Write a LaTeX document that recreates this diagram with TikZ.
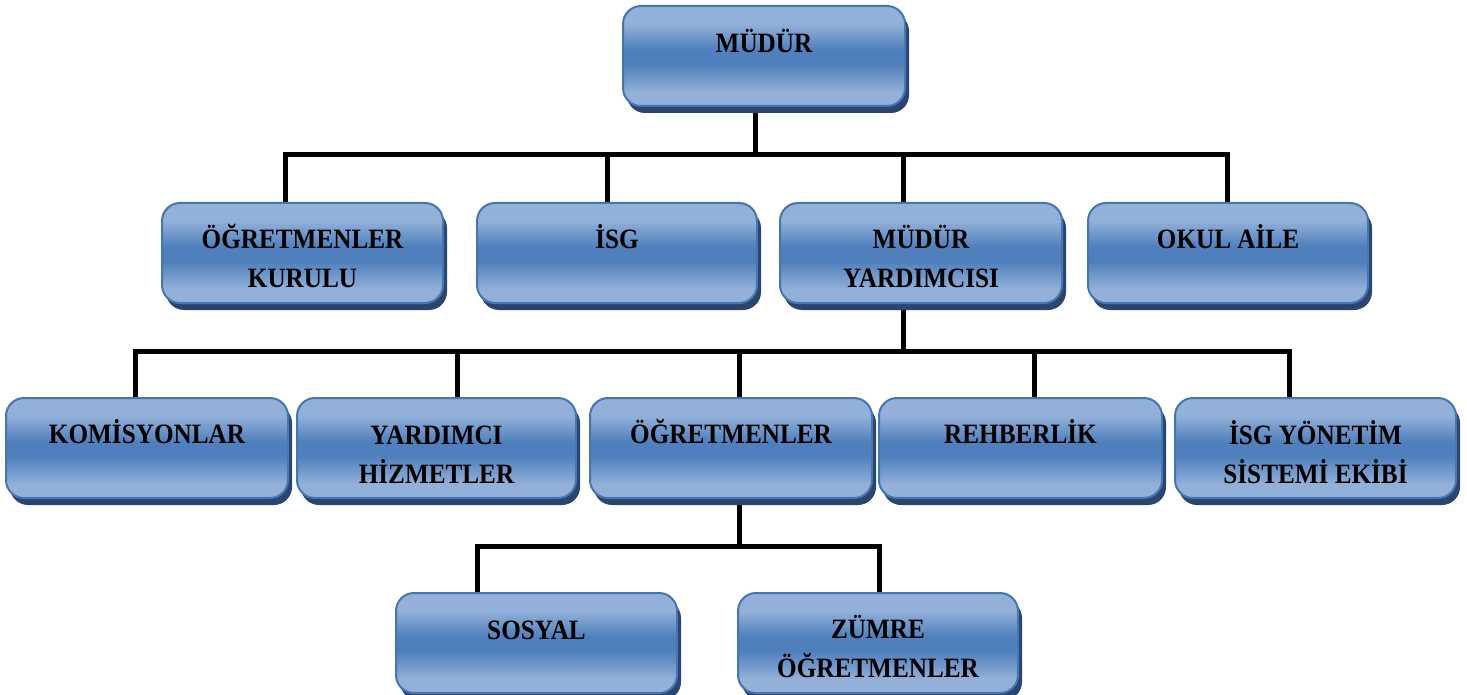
\documentclass[tikz,border=0pt]{standalone}
\usepackage{fontspec}
\usetikzlibrary{shadows,calc}
\newfontfamily\boxfont{Liberation Serif}[FakeStretch=0.9]
\definecolor{boxL}{RGB}{146,176,216}
\definecolor{boxD}{RGB}{79,127,188}
\definecolor{boxB}{RGB}{70,118,178}
\definecolor{boxS}{RGB}{42,70,110}
\pgfdeclareverticalshading{boxshade}{100bp}{color(0bp)=(boxL); color(25bp)=(boxL); color(32bp)=(boxL); color(46bp)=(boxD); color(53bp)=(boxD); color(66bp)=(boxL); color(75bp)=(boxL); color(100bp)=(boxL)}
\pgfdeclarelayer{background}
\pgfsetlayers{background,main}
\tikzset{
  orgbox/.style={draw=boxB, line width=2pt, rounded corners=18pt, shading=boxshade,
    minimum height=100pt, inner sep=0pt, outer sep=0pt, anchor=north west,
    drop shadow={shadow xshift=4pt, shadow yshift=-7pt, fill=boxS, opacity=1}},
  lbl/.style={font=\boxfont\bfseries\fontsize{28}{39}\selectfont, align=center, inner sep=0pt, anchor=base, text=black},
  conn/.style={line width=5pt, draw=black}
}
\begin{document}
\begin{tikzpicture}[x=1pt,y=-1pt]
\useasboundingbox (0,0) rectangle (1467,695);
% boxes
\node[orgbox, minimum width=282pt] (mudur) at (623,6) {};
\node[orgbox, minimum width=281pt] (okk) at (162,203) {};
\node[orgbox, minimum width=280pt] (isg) at (477,203) {};
\node[orgbox, minimum width=282pt] (my) at (780,203) {};
\node[orgbox, minimum width=280pt] (okul) at (1088,203) {};
\node[orgbox, minimum width=282pt] (kom) at (6,398) {};
\node[orgbox, minimum width=279pt] (yh) at (297,398) {};
\node[orgbox, minimum width=282pt] (ogr) at (590,398) {};
\node[orgbox, minimum width=283pt] (reh) at (879,398) {};
\node[orgbox, minimum width=281pt] (isgy) at (1175,398) {};
\node[orgbox, minimum width=281pt] (sos) at (396,593) {};
\node[orgbox, minimum width=280pt] (zum) at (738,593) {};
% labels (base anchor = baseline of the last line)
\node[lbl] (t-mudur) at ($(mudur.north)+(0,47)$) {MÜDÜR};
\node[lbl] (t-okk) at ($(okk.north)+(0,84)$) {ÖĞRETMENLER\\KURULU};
\node[lbl] (t-isg) at ($(isg.north)+(0,45)$) {İSG};
\node[lbl] (t-my) at ($(my.north)+(0,84)$) {MÜDÜR\\YARDIMCISI};
\node[lbl] (t-okul) at ($(okul.north)+(0,45)$) {OKUL AİLE};
\node[lbl] (t-kom) at ($(kom.north)+(0,45)$) {KOMİSYONLAR};
\node[lbl] (t-yh) at ($(yh.north)+(0,85)$) {YARDIMCI\\HİZMETLER};
\node[lbl] (t-ogr) at ($(ogr.north)+(0,45)$) {ÖĞRETMENLER};
\node[lbl] (t-reh) at ($(reh.north)+(0,45)$) {REHBERLİK};
\node[lbl] (t-isgy) at ($(isgy.north)+(0,85)$) {İSG YÖNETİM\\SİSTEMİ EKİBİ};
\node[lbl] (t-sos) at ($(sos.north)+(0,46)$) {SOSYAL};
\node[lbl] (t-zum) at ($(zum.north)+(0,84)$) {ZÜMRE\\ÖĞRETMENLER};
% connectors
\begin{pgfonlayer}{background}
\coordinate (b1) at (755,155);
\coordinate (d-okk) at (285,155);
\coordinate (d-isg) at (607,155);
\coordinate (d-my) at (903,155);
\coordinate (d-okul) at (1227,155);
\draw[conn] (mudur.south -| b1) -- (b1);
\draw[conn] (okk.north -| d-okk) -- (d-okk) -- (d-okul) -- (okul.north -| d-okul);
\draw[conn] (d-isg) -- (isg.north -| d-isg);
\draw[conn] (d-my) -- (my.north -| d-my);
\coordinate (b2) at (903,351);
\coordinate (d-kom) at (135,351);
\coordinate (d-yh) at (457,351);
\coordinate (d-ogr) at (739,351);
\coordinate (d-reh) at (1034,351);
\coordinate (d-isgy) at (1289,351);
\draw[conn] (my.south -| b2) -- (b2);
\draw[conn] (kom.north -| d-kom) -- (d-kom) -- (d-isgy) -- (isgy.north -| d-isgy);
\draw[conn] (d-yh) -- (yh.north -| d-yh);
\draw[conn] (d-ogr) -- (ogr.north -| d-ogr);
\draw[conn] (d-reh) -- (reh.north -| d-reh);
\coordinate (b3) at (739,546);
\coordinate (d-sos) at (477,546);
\coordinate (d-zum) at (879,546);
\draw[conn] (ogr.south -| b3) -- (b3);
\draw[conn] (sos.north -| d-sos) -- (d-sos) -- (d-zum) -- (zum.north -| d-zum);
\end{pgfonlayer}
\end{tikzpicture}
\end{document}
